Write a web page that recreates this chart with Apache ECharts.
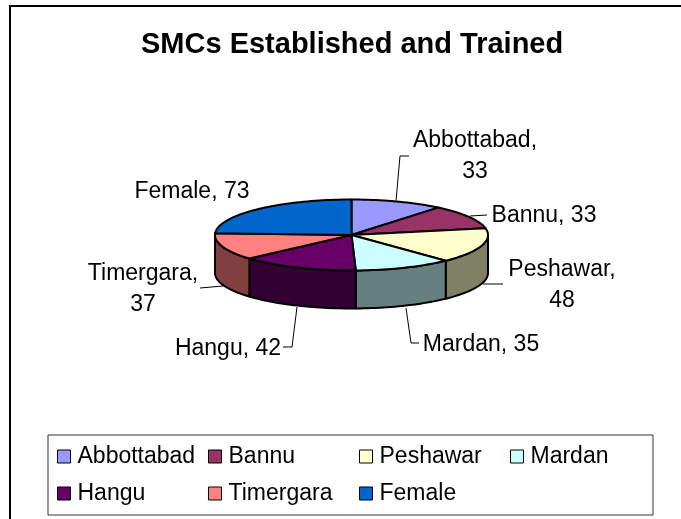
<!DOCTYPE html>
<html><head><meta charset="utf-8">
<style>html,body{margin:0;padding:0;background:#fff}#c{width:681px;height:519px}</style>
<script src="https://cdn.jsdelivr.net/npm/echarts@6/dist/echarts.min.js"></script>
</head><body><div id="c"></div>
<script>
const categories = ['Abbottabad','Bannu','Peshawar','Mardan','Hangu','Timergara','Female'];
const values = [33,33,48,35,42,37,73];
const topColors = ['#9999FF','#993366','#FFFFCC','#CCFFFF','#660066','#FF8080','#0066CC'];
const sideColors = ['#4D4D80','#4D1A33','#808066','#668080','#330033','#804040','#003366'];
const FONT = '"Liberation Sans", Arial, sans-serif';
const LABEL_SIZE = 23;
// label layout: text block centre, and leader polyline in pixels
const labelLayout = [
  {lines:['Abbottabad,','33'], x:475, y:156, leader:[[396,201],[400,156],[409,156]]},
  {lines:['Bannu, 33'], x:544, y:216, leader:[[470,216],[487,215]]},
  {lines:['Peshawar,','48'], x:562, y:285, leader:[[483,284],[503,284]]},
  {lines:['Mardan, 35'], x:481, y:345, leader:[[406,308],[411,343],[419,343]]},
  {lines:['Hangu, 42'], x:228, y:349, leader:[[297,307],[292,347],[283,347]]},
  {lines:['Timergara,','37'], x:143, y:289, leader:[[223,286],[200,288]]},
  {lines:['Female, 73'], x:192, y:192, leader:null}
];
const total = values.reduce((a,b)=>a+b,0);
const CX=351.5, CY=235, RX=136.5, RY=35.5, DEPTH=38;
const pt=(t,dy)=>[CX+RX*Math.sin(t), CY-RY*Math.cos(t)+(dy||0)];
function arc(a,b,dy){const n=Math.max(2,Math.ceil((b-a)/0.03));const r=[];for(let i=0;i<=n;i++)r.push(pt(a+(b-a)*i/n,dy));return r;}

function renderItem(idx){
  return function(params,api){
    let before=0; for(let i=0;i<idx;i++) before+=values[i];
    const a=before/total*2*Math.PI, b=(before+api.value(0))/total*2*Math.PI;
    const children=[];
    const sa=Math.max(a,Math.PI/2), sb=Math.min(b,Math.PI*1.5);
    if(sb>sa){
      const side=arc(sa,sb,0).concat(arc(sa,sb,DEPTH).reverse());
      children.push({type:'polygon',shape:{points:side},style:{fill:sideColors[idx],stroke:'#000',lineWidth:2,lineJoin:'round'}});
    }
    const top=[[CX,CY]].concat(arc(a,b,0));
    children.push({type:'polygon',shape:{points:top},style:{fill:topColors[idx],stroke:'#000',lineWidth:2,lineJoin:'round'}});
    const L=labelLayout[idx];
    if(L.leader) children.push({type:'polyline',shape:{points:L.leader},style:{fill:null,stroke:'#000',lineWidth:1}});
    const txt=L.lines.join('\n');
    children.push({type:'text',x:L.x,y:L.y,style:{text:txt,font:LABEL_SIZE+'px '+FONT,fill:'#000',align:'center',verticalAlign:'middle',lineHeight:31}});
    return {type:'group',children};
  };
}

const series=categories.map((name,i)=>({
  name,type:'custom',coordinateSystem:'none',data:[[values[i]]],
  itemStyle:{color:topColors[i]},renderItem:renderItem(i),silent:true,animation:false
}));

const chart=echarts.init(document.getElementById('c'),null,{renderer:'canvas'});
chart.setOption({
  animation:false,backgroundColor:'#fff',
  title:{text:'SMCs Established and Trained',left:141,top:30,padding:0,itemGap:0,
    textStyle:{fontFamily:FONT,fontWeight:'bold',fontSize:29,color:'#000'}},
  graphic:[{type:'rect',silent:true,z:-1,shape:{x:10,y:6,width:680,height:520},style:{fill:'#fff',stroke:'#000',lineWidth:2}}],
  legend:{data:categories,left:48,top:435,width:600,orient:'horizontal',
    padding:[8,2,8,9],itemWidth:13,itemHeight:13,itemGap:10,icon:'rect',
    borderColor:'#333',borderWidth:1,backgroundColor:'#fff',selectedMode:false,
    itemStyle:{borderColor:'#000',borderWidth:1},
    textStyle:{fontFamily:FONT,fontSize:LABEL_SIZE,color:'#000',width:120.5,lineHeight:27,padding:[0,0,0,2]}},
  series
});
</script></body></html>
